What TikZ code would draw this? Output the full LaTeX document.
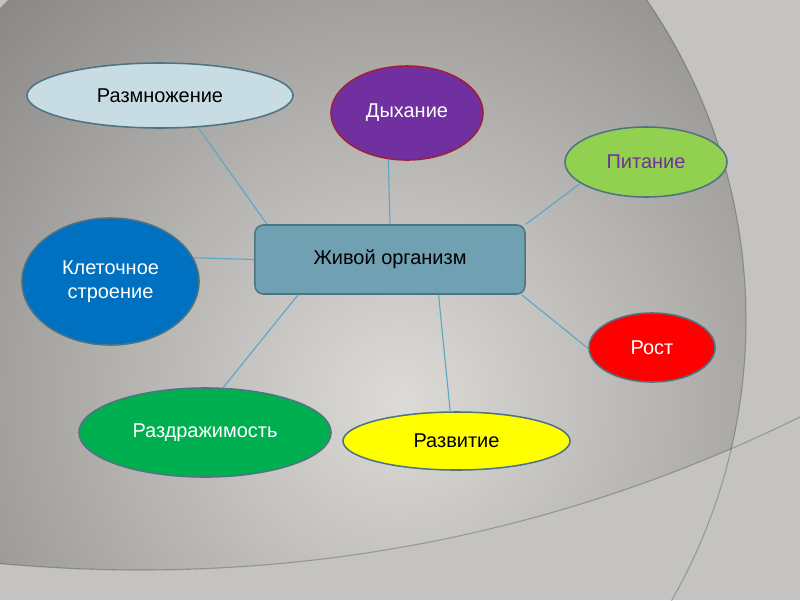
\documentclass[tikz,border=0pt]{standalone}
\usepackage{fontspec}
\setmainfont{Liberation Sans}
\usepackage{xcolor}
\usetikzlibrary{shapes.geometric}

\definecolor{paleback}{HTML}{C4C3C1}
\definecolor{darkback}{HTML}{8B8987}
\definecolor{lightback}{HTML}{DCDBD8}
\definecolor{linkblue}{HTML}{5AA8C4}
\definecolor{rimteal}{HTML}{4E7482}
\definecolor{reprofill}{HTML}{C8DCE3}
\definecolor{breathfill}{HTML}{7030A0}
\definecolor{breathrim}{HTML}{A0203A}
\definecolor{foodfill}{HTML}{92D050}
\definecolor{foodtext}{HTML}{7030A0}
\definecolor{cellfill}{HTML}{0070C0}
\definecolor{orgfill}{HTML}{6FA1B2}
\definecolor{growthfill}{HTML}{FF0000}
\definecolor{irritfill}{HTML}{00B050}
\definecolor{develfill}{HTML}{FFFF00}

\begin{document}
\begin{tikzpicture}[x=0.025cm, y=-0.025cm,
  bubble/.style={ellipse, draw=rimteal, line width=1.1pt, inner sep=0pt, align=center, font=\fontsize{14.2}{17}\selectfont},
  hub/.style={draw=rimteal, line width=1.1pt, rounded corners=6pt, fill=orgfill, inner sep=0pt, minimum width=6.75cm, minimum height=1.725cm, font=\fontsize{14.2}{17}\selectfont},
  link/.style={draw=linkblue, line width=0.8pt},
  arcline/.style={draw=black, opacity=0.22, line width=0.8pt}
]
\useasboundingbox (0,0) rectangle (800,600);
\fill[paleback] (0,0) rectangle (800,600);
\begin{scope}
  \clip (0,0) rectangle (800,600);
  \clip (181,320) circle (565);
  \clip (140,-926) circle (1496);
  \shade[inner color=lightback, outer color=darkback] (400,400) circle (560);
\end{scope}
\begin{scope}
  \clip (0,0) rectangle (800,600);
  \draw[arcline] (181,320) circle (565);
  \draw[arcline] (140,-926) circle (1496);
\end{scope}

\node[hub] (org) at (390,259.5) {Живой организм};
\node[bubble, fill=reprofill, minimum width=6.65cm, minimum height=1.625cm] (repro) at (160,95.5) {Размножение};
\node[bubble, fill=breathfill, draw=breathrim, text=white, minimum width=3.8cm, minimum height=2.35cm] (breath) at (407,113) {Дыхание};
\node[bubble, fill=foodfill, text=foodtext, minimum width=4.05cm, minimum height=1.75cm] (food) at (646,162) {Питание};
\node[bubble, fill=cellfill, text=white, minimum width=4.425cm, minimum height=3.175cm] (cell) at (110.5,281.5) {Клеточное\\строение};
\node[bubble, fill=growthfill, text=white, minimum width=3.15cm, minimum height=1.725cm] (growth) at (652,347.5) {Рост};
\node[bubble, fill=irritfill, text=white, minimum width=6.3cm, minimum height=2.225cm] (irrit) at (205,432.5) {Раздражимость};
\node[bubble, fill=develfill, minimum width=5.675cm, minimum height=1.45cm] (devel) at (456.5,441) {Развитие};

\draw[link] (repro.-40) -- (org.164.6);
\draw[link] (breath.248.4) -- (org.north);
\draw[link] (food.198.7) -- (org.north east);
\draw[link] (cell.16.8) -- (org.west);
\draw[link] (growth.181) -- (org.-15);
\draw[link] (devel.102) -- (org.-36.1);
\draw[link] (irrit.68) -- (org.201.1);
\end{tikzpicture}
\end{document}
